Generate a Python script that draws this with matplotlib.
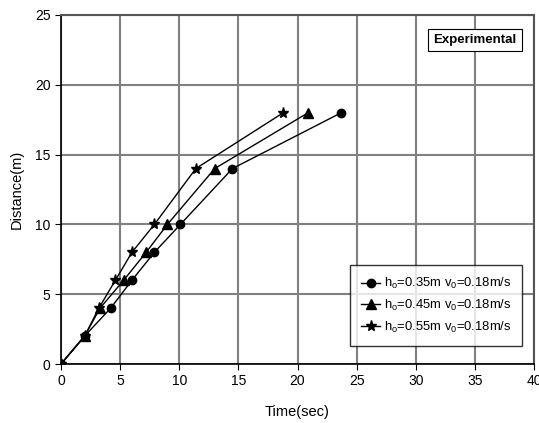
import matplotlib
matplotlib.use("Agg")
import matplotlib.pyplot as plt

plt.rcParams["font.family"] = ["Liberation Sans", "DejaVu Sans"]

distance = [0, 2, 4, 6, 8, 10, 14, 18]
time_h035 = [0, 2.0, 4.2, 6.0, 7.9, 10.1, 14.5, 23.7]
time_h045 = [0, 2.0, 3.3, 5.3, 7.2, 9.0, 13.0, 20.9]
time_h055 = [0, 2.0, 3.2, 4.6, 6.0, 7.9, 11.4, 18.8]

labels = [
    r"h$_{\mathregular{o}}$=0.35m v$_{\mathregular{0}}$=0.18m/s",
    r"h$_{\mathregular{o}}$=0.45m v$_{\mathregular{0}}$=0.18m/s",
    r"h$_{\mathregular{o}}$=0.55m v$_{\mathregular{0}}$=0.18m/s",
]

fig = plt.figure(figsize=(5.39, 4.23), dpi=100)
ax = fig.add_axes([61 / 539, 1 - 364 / 423, (534 - 61) / 539, (364 - 15) / 423])

ax.plot(time_h035, distance, "k-", marker="o", ms=6, lw=1, label=labels[0])
ax.plot(time_h045, distance, "k-", marker="^", ms=6.5, lw=1, label=labels[1])
ax.plot(time_h055, distance, "k-", marker="*", ms=8, lw=1, label=labels[2])

ax.set_xlim(0, 40)
ax.set_ylim(0, 25)
ax.set_xticks(range(0, 41, 5))
ax.set_yticks(range(0, 26, 5))
ax.grid(True, color="#808080", lw=1.5)
ax.set_axisbelow(True)
ax.tick_params(direction="out", length=4, labelsize=10, color="black")
for side in ["top", "right"]:
    ax.spines[side].set_color("#555555")
    ax.spines[side].set_linewidth(1.5)
for side in ["left", "bottom"]:
    ax.spines[side].set_linewidth(1.2)

ax.set_xlabel("Time(sec)", fontsize=10.5, labelpad=12)
ax.set_ylabel("Distance(m)", fontsize=10.5, labelpad=8)

leg = ax.legend(loc="lower right", bbox_to_anchor=(0.975, 0.052), borderaxespad=0,
                fontsize=9.4, frameon=True, fancybox=False, edgecolor="black",
                handlelength=1.4, borderpad=0.85, labelspacing=0.5,
                handletextpad=0.3)
leg.get_frame().set_linewidth(1)

ax.text(0.963, 0.929, "Experimental", transform=ax.transAxes, ha="right", va="center",
        fontsize=9.5, fontweight="bold",
        bbox=dict(boxstyle="square,pad=0.4", fc="white", ec="black", lw=0.8))

fig.savefig("out.png", dpi=100)
